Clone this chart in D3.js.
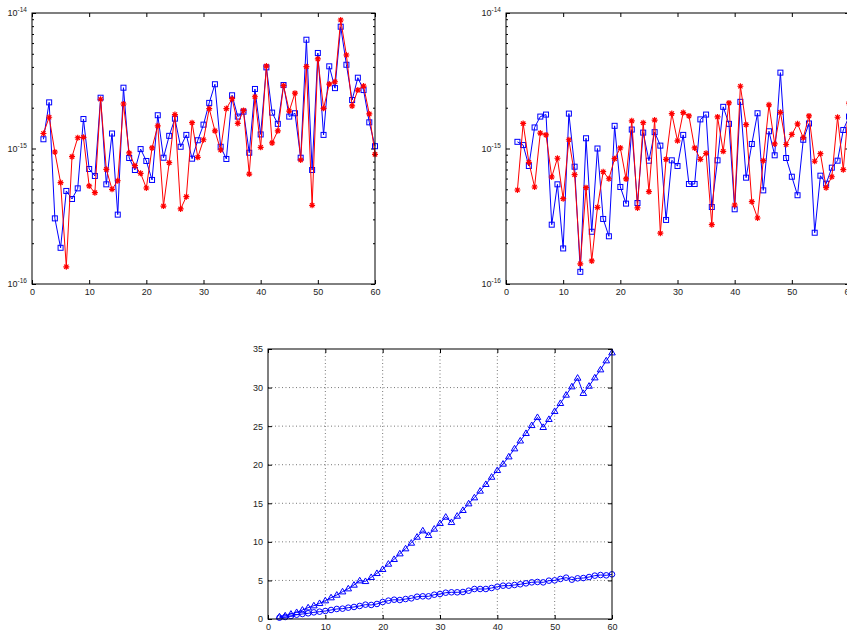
<!DOCTYPE html>
<html>
<head>
<meta charset="utf-8">
<script src="https://cdn.jsdelivr.net/npm/d3@7"></script>
<style>
body { margin: 0; background: #fff; }
text { font-family: "Liberation Sans", Arial, sans-serif; font-size: 9px; fill: #222; }
</style>
</head>
<body>
<svg id="fig" width="847" height="632"></svg>
<script>
// x positions shared by every series
const n = d3.range(2, 61)

// top panels, values in units of 1e-15
const unit = 1e-15
const blueLeft = [1.17,2.19,0.305,0.185,0.486,0.424,0.508,1.65,0.706,0.627,2.37,0.544,1.29,0.325,2.81,0.851,0.694,0.99,0.809,0.586,1.76,0.855,1.24,1.66,1.03,1.26,0.841,1.15,1.50,2.17,2.98,1.03,0.837,2.47,1.72,1.87,0.931,2.75,1.27,3.97,1.84,1.52,2.94,1.72,1.82,0.855,6.35,0.694,5.07,1.26,4.04,2.79,7.92,4.15,2.28,3.33,2.70,1.56,1.04]
const redLeft = [1.29,1.70,0.942,0.560,0.134,0.870,1.20,1.21,0.529,0.472,2.31,0.702,0.500,0.578,2.13,0.927,0.747,0.656,0.511,1.01,1.47,0.376,0.786,1.78,0.358,0.441,1.55,0.861,1.16,1.97,1.35,0.975,1.97,2.33,1.53,1.91,0.648,2.41,1.02,4.06,1.10,1.35,2.91,1.89,2.56,0.823,4.02,0.381,4.58,1.98,2.99,3.11,8.88,4.90,2.06,2.70,2.89,1.80,0.906]
const blueRight = [1.12,1.06,0.743,1.43,1.72,1.78,0.274,0.544,0.183,1.81,0.734,0.123,1.19,0.243,1.00,0.302,0.225,1.47,0.520,0.392,1.38,0.396,1.31,0.813,1.32,1.05,0.297,0.818,0.743,1.26,0.547,0.547,1.64,1.78,0.370,0.818,2.03,1.52,0.356,2.21,0.609,1.08,1.82,0.491,1.34,0.891,3.63,0.851,0.619,0.452,1.16,1.53,0.239,0.630,0.550,0.722,0.813,1.37,1.72]
const redRight = [0.494,1.53,0.791,0.520,1.30,1.26,0.616,0.847,0.426,1.16,0.641,0.141,0.514,0.148,0.368,0.674,0.598,0.841,1.01,0.596,1.60,0.364,1.55,0.480,1.62,0.237,0.832,1.81,1.14,1.84,1.74,1.01,0.832,0.922,0.274,1.71,0.953,2.17,0.383,2.88,1.50,0.405,0.307,0.813,2.10,1.08,1.85,1.07,1.27,1.52,1.20,1.74,0.805,0.916,0.514,0.619,1.70,0.698,2.16]

// bottom panel
const triVals = [0.3,0.43,0.65,0.86,1.17,1.47,1.73,2.03,2.38,2.77,3.11,3.54,3.93,4.41,4.97,4.88,5.4,5.92,6.44,7.13,7.74,8.47,9.12,9.85,10.63,11.45,10.85,11.67,12.4,13.22,12.53,13.35,14.09,14.95,15.73,16.6,17.46,18.4,19.27,20.1,21.04,22.08,23.1,24.07,25.1,26.14,24.85,25.89,26.92,27.96,29.04,30.12,31.24,29.26,30.2,31.28,32.32,33.49,34.52]
const circVals = [0.17,0.26,0.39,0.56,0.65,0.74,0.86,0.95,1.04,1.17,1.30,1.34,1.47,1.56,1.69,1.86,1.82,1.95,2.2,2.38,2.5,2.46,2.59,2.68,2.89,2.94,2.94,3.15,3.24,3.41,3.46,3.46,3.5,3.67,3.89,3.89,3.89,4.02,4.19,4.32,4.32,4.41,4.5,4.62,4.75,4.8,4.75,4.97,5.01,5.19,5.36,5.1,5.27,5.31,5.44,5.62,5.7,5.66,5.79]

const xTicks = [0, 10, 20, 30, 40, 50, 60]
const logMajor = [1e-16, 1e-15, 1e-14]
const linTicks = [0, 5, 10, 15, 20, 25, 30, 35]

const svg = d3.select("#fig")

function cleanAxis(sel) {
    sel.select(".domain").remove()
    sel.selectAll(".tick line").attr("stroke", "#000")
    sel.selectAll("text").attr("font-size", null).attr("font-family", null)
}

function xAxes(g, x, h) {
    g.append("g").attr("transform", `translate(0,${h})`)
        .call(d3.axisBottom(x).tickValues(xTicks).tickSize(-4).tickPadding(5))
        .call(cleanAxis)
    g.append("g")
        .call(d3.axisTop(x).tickValues(xTicks).tickSize(-4).tickFormat(""))
        .call(cleanAxis)
}

function asterisk(g, cx, cy, r, color) {
    const d = r * 0.72
    g.append("path")
        .attr("d", `M${cx - r},${cy}H${cx + r}M${cx},${cy - r}V${cy + r}M${cx - d},${cy - d}L${cx + d},${cy + d}M${cx - d},${cy + d}L${cx + d},${cy - d}`)
        .attr("stroke", color).attr("stroke-width", 1.2).attr("fill", "none")
}

function logPanel(left, top, blue, red) {
    const w = 343, h = 271
    const g = svg.append("g").attr("transform", `translate(${left},${top})`)
    const x = d3.scaleLinear().domain([0, 60]).range([0, w])
    const y = d3.scaleLog().domain([1e-16, 1e-14]).range([h, 0])

    const minor = y.ticks().filter(v => !logMajor.some(m => Math.abs(m - v) / m < 1e-6))

    g.append("g").call(d3.axisLeft(y).tickValues(logMajor).tickSize(-4).tickFormat("")).call(cleanAxis)
    g.append("g").call(d3.axisLeft(y).tickValues(minor).tickSize(-2).tickFormat("")).call(cleanAxis)
    g.append("g").attr("transform", `translate(${w},0)`)
        .call(d3.axisRight(y).tickValues(logMajor).tickSize(-4).tickFormat("")).call(cleanAxis)
    g.append("g").attr("transform", `translate(${w},0)`)
        .call(d3.axisRight(y).tickValues(minor).tickSize(-2).tickFormat("")).call(cleanAxis)
    xAxes(g, x, h)

    // 10^k labels
    logMajor.forEach(v => {
        const t = g.append("text").attr("x", -5).attr("y", y(v) + 3).attr("text-anchor", "end")
        t.append("tspan").text("10")
        t.append("tspan").attr("dy", -4).style("font-size", "6.5px").text(Math.round(Math.log10(v)))
    })

    const line = d3.line().x((d, i) => x(n[i])).y(d => y(d * unit))

    g.append("path").datum(blue).attr("d", line).attr("fill", "none").attr("stroke", "#0000ff").attr("stroke-width", 1)
    g.selectAll(".sq").data(blue).enter().append("rect")
        .attr("x", (d, i) => x(n[i]) - 2.5).attr("y", d => y(d * unit) - 2.5)
        .attr("width", 5).attr("height", 5)
        .attr("fill", "none").attr("stroke", "#0000ff").attr("stroke-width", 1)

    g.append("path").datum(red).attr("d", line).attr("fill", "none").attr("stroke", "#ff0000").attr("stroke-width", 1)
    red.forEach((d, i) => asterisk(g, x(n[i]), y(d * unit), 3, "#ff0000"))

    g.append("rect").attr("width", w).attr("height", h).attr("fill", "none").attr("stroke", "#000").attr("stroke-width", 1)
}

function linPanel(left, top) {
    const w = 344, h = 270
    const g = svg.append("g").attr("transform", `translate(${left},${top})`)
    const x = d3.scaleLinear().domain([0, 60]).range([0, w])
    const y = d3.scaleLinear().domain([0, 35]).range([h, 0])

    // dotted grid
    g.append("g").selectAll("line").data(xTicks.slice(1, -1)).enter().append("line")
        .attr("x1", d => x(d)).attr("x2", d => x(d)).attr("y1", 0).attr("y2", h)
        .attr("stroke", "#777").attr("stroke-dasharray", "1,2.5")
    g.append("g").selectAll("line").data(linTicks.slice(1, -1)).enter().append("line")
        .attr("y1", d => y(d)).attr("y2", d => y(d)).attr("x1", 0).attr("x2", w)
        .attr("stroke", "#777").attr("stroke-dasharray", "1,2.5")

    g.append("g").call(d3.axisLeft(y).tickValues(linTicks).tickSize(-4).tickPadding(5))
        .call(cleanAxis)
    g.append("g").attr("transform", `translate(${w},0)`)
        .call(d3.axisRight(y).tickValues(linTicks).tickSize(-4).tickFormat("")).call(cleanAxis)
    xAxes(g, x, h)

    const line = d3.line().x((d, i) => x(n[i])).y(d => y(d))

    g.append("path").datum(triVals).attr("d", line).attr("fill", "none").attr("stroke", "#0000ff").attr("stroke-width", 1)
    g.selectAll(".tri").data(triVals).enter().append("path")
        .attr("d", (d, i) => {
            const cx = x(n[i]), cy = y(d)
            return `M${cx},${cy - 3.4}L${cx + 3.3},${cy + 2.2}L${cx - 3.3},${cy + 2.2}Z`
        })
        .attr("fill", "none").attr("stroke", "#0000ff").attr("stroke-width", 1)

    g.append("path").datum(circVals).attr("d", line).attr("fill", "none").attr("stroke", "#0000ff").attr("stroke-width", 1)
    g.selectAll(".circ").data(circVals).enter().append("circle")
        .attr("cx", (d, i) => x(n[i])).attr("cy", d => y(d)).attr("r", 2.8)
        .attr("fill", "none").attr("stroke", "#0000ff").attr("stroke-width", 1)

    g.append("rect").attr("width", w).attr("height", h).attr("fill", "none").attr("stroke", "#000").attr("stroke-width", 1)
}

logPanel(32, 13, blueLeft, redLeft)
logPanel(506, 13, blueRight, redRight)
linPanel(268, 349)
</script>
</body>
</html>
